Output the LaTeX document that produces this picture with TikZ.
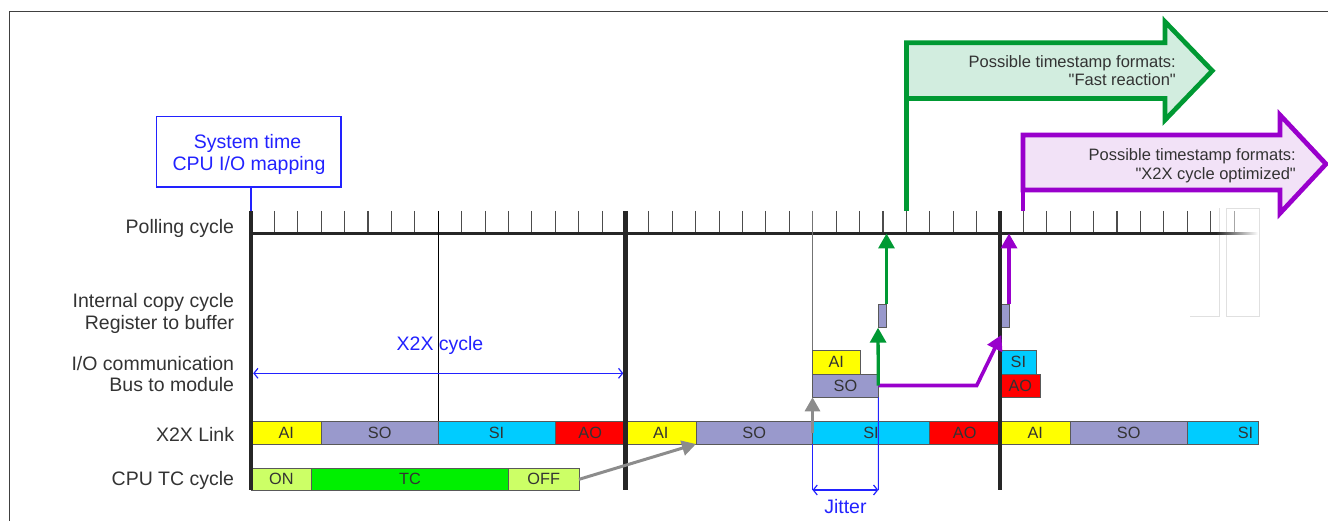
\documentclass[tikz,border=0pt]{standalone}
\usepackage{fontspec}
\setmainfont{Liberation Sans}
\usetikzlibrary{arrows.meta}
\definecolor{cyel}{HTML}{FFFF00}
\definecolor{cso}{HTML}{9999CC}
\definecolor{csi}{HTML}{00CCFF}
\definecolor{cao}{HTML}{FF0000}
\definecolor{con}{HTML}{CCFF66}
\definecolor{ctc}{HTML}{00F000}
\definecolor{cgreen}{HTML}{009933}
\definecolor{cgfill}{HTML}{D2EDDF}
\definecolor{cpur}{HTML}{9900CC}
\definecolor{cpfill}{HTML}{F2E2F7}
\definecolor{cblue}{HTML}{2222FF}
\definecolor{cgray}{HTML}{8C8C8C}
\definecolor{ctext}{HTML}{333333}
\newcommand\lblfont{\fontsize{19.5}{22}\selectfont}
\newcommand\segfont{\fontsize{16.3}{18}\selectfont}
\newcommand\notefont{\fontsize{16.5}{18.5}\selectfont}
\begin{document}
\begin{tikzpicture}[x=1pt,y=-1pt,
  seg/.style={draw=black!65, line width=0.8pt, inner sep=0pt, outer sep=0pt, anchor=north west, minimum height=23, text=ctext, font=\segfont},
  lbl/.style={anchor=base east, text=ctext, font=\lblfont, inner sep=0pt},
  bluetxt/.style={anchor=base, text=cblue, font=\lblfont, inner sep=0pt},
  notetxt/.style={anchor=base east, text=ctext, font=\notefont, inner sep=0pt},
  tickline/.style={draw=black!70, line width=1.1pt},
  cyclebar/.style={draw=black!85, line width=4.3pt},
  garrow/.style={draw=cgreen, line width=3.3pt, -{Triangle[length=15pt,width=16pt]}},
  parrow/.style={draw=cpur, line width=3.6pt, line join=miter, -{Triangle[length=15pt,width=16pt]}},
  grayarrow/.style={draw=cgray, line width=3pt, -{Triangle[length=14pt,width=15pt]}},
  dimline/.style={draw=cblue, line width=1pt},
  dimarrow/.style={draw=cblue, line width=1.2pt, {Straight Barb[length=4pt,width=10pt]}-{Straight Barb[length=4pt,width=10pt]}},
  bigarrow/.style={line width=4.7pt, line join=miter}
]
\useasboundingbox (0,0) rectangle (1328,521);
% frame
\draw[black!75, line width=1pt] (9,521) -- (9,12) -- (1328,12);

% faint artefact frames at the right end
\draw[black!12, line width=0.8pt] (1190,316) -- (1219.3,316) -- (1219.3,208);
\draw[black!12, line width=0.8pt] (1226.7,208) rectangle (1259,316);

% polling cycle ticks
\foreach \k in {1,...,15} {
  \draw[tickline] ({251+\k*23.406},211) -- ++(0,22.5);
  \draw[tickline] ({625.5+\k*23.406},211) -- ++(0,22.5);
}
\foreach \k in {1,...,9} {
  \draw[tickline] ({1000+\k*23.406},211) -- ++(0,22.5);
}
\draw[black!35, line width=1.1pt] (1234.1,211) -- ++(0,22.5);
% axis
\draw[black!85, line width=2.3pt] (251,233.5) -- (1216,233.5);
\shade[left color=black!85, right color=white] (1216,232.35) rectangle (1258,234.65);

% thin verticals
\draw[black, line width=1pt] (438.25,211) -- (438.25,421);
\draw[black!55, line width=1.5pt] (812.6,211) -- (812.6,350.7);

% big arrows
\filldraw[bigarrow, draw=cgreen, fill=cgfill] (906.4,42.7) -- (1165,42.7) -- (1165,21.7) -- (1212.3,70.8) -- (1165,120) -- (1165,98.5) -- (906.4,98.5) -- cycle;
\draw[draw=cgreen, line width=4.7pt] (906.4,98.5) -- (906.4,211);
\node[notetxt] (ga1) at (1176,68) {Possible timestamp formats:};
\node[notetxt] (ga2) at (1176,86) {\textquotedbl Fast reaction\textquotedbl};

\filldraw[bigarrow, draw=cpur, fill=cpfill] (1023,135) -- (1280,135) -- (1280,115) -- (1326,164) -- (1280,213.3) -- (1280,190) -- (1023,190) -- cycle;
\draw[draw=cpur, line width=4.7pt] (1023,190) -- (1023,211);
\node[notetxt] (pa1) at (1296,161) {Possible timestamp formats:};
\node[notetxt] (pa2) at (1296,179.5) {\textquotedbl X2X cycle optimized\textquotedbl};

% system time box
\node[draw=cblue, line width=1.2pt, minimum width=184.3, minimum height=70.3, inner sep=0pt] (sys) at (248.85,151.85) {};
\node[bluetxt] (sys1) at (247.5,149) {System time};
\node[bluetxt] (sys2) at (249,170.7) {CPU I/O mapping};
\coordinate (sysb) at (251,187);
\coordinate (polltop) at (251,211);
\draw[cblue, line width=1.2pt] (sysb) -- (polltop);

% row labels
\node[lbl] (l1) at (234.3,233.3) {Polling cycle};
\node[lbl] (l2a) at (234.3,307.3) {Internal copy cycle};
\node[lbl] (l2b) at (234.3,329.3) {Register to buffer};
\node[lbl] (l3a) at (234.3,370.7) {I/O communication};
\node[lbl] (l3b) at (234.3,391.7) {Bus to module};
\node[lbl] (l4) at (234.3,441) {X2X Link};
\node[lbl] (l5) at (234.3,485) {CPU TC cycle};

% X2X cycle dimension
\node[bluetxt] (x2xc) at (440,350) {X2X cycle};
\coordinate (cyL) at (253.2,373.3);
\coordinate (cyR) at (623.3,373.3);
\draw[dimarrow] (cyL) -- (cyR);

% X2X link bar
\node[seg, fill=cyel, minimum width=70.5] (ai1) at (251,421) {AI};
\node[seg, fill=cso, minimum width=116.5] (so1) at (321.5,421) {SO};
\node[seg, fill=csi, minimum width=117] (si1) at (438,421) {SI};
\node[seg, fill=cao, minimum width=70.5] (ao1) at (555,421) {AO};
\node[seg, fill=cyel, minimum width=70.5] (ai2) at (625.5,421) {AI};
\node[seg, fill=cso, minimum width=116.5] (so2) at (696,421) {SO};
\node[seg, fill=csi, minimum width=117] (si2) at (812.5,421) {SI};
\node[seg, fill=cao, minimum width=70.5] (ao2) at (929.5,421) {AO};
\node[seg, fill=cyel, minimum width=70.5] (ai3) at (1000,421) {AI};
\node[seg, fill=cso, minimum width=116.5] (so3) at (1070.5,421) {SO};
\node[seg, fill=csi, minimum width=71] (si3) at (1187,421) {};
\node[text=ctext, font=\segfont, inner sep=0pt] (si3t) at (1245.5,432.5) {SI};

% CPU TC cycle bar
\node[seg, fill=con, minimum width=60.7, minimum height=22.7] (on) at (251,468) {ON};
\node[seg, fill=ctc, minimum width=196.6, minimum height=22.7] (tc) at (311.7,468) {TC};
\node[seg, fill=con, minimum width=70.7, minimum height=22.7] (off) at (508.3,468) {OFF};

% I/O communication boxes
\node[seg, fill=cyel, minimum width=47.5, minimum height=23.3] (ioai) at (812.5,350.7) {AI};
\node[seg, fill=cso, minimum width=65.8, minimum height=23.3] (ioso) at (812.5,374) {SO};
\node[seg, fill=csi, minimum width=36.7, minimum height=23.3] (iosi) at (1000,350.7) {SI};
\node[seg, fill=cao, minimum width=40.7, minimum height=23.3] (ioao) at (1000,374) {AO};

% internal copy boxes
\node[seg, fill=cso, minimum width=8.5, minimum height=23.7] (cp1) at (878,304) {};
\node[seg, fill=cso, minimum width=8, minimum height=23.7] (cp2) at (1001,304) {};

% cycle boundary lines
\draw[cyclebar] (251,211) -- (251,490);
\draw[cyclebar] (625.5,211) -- (625.5,490);
\draw[cyclebar] (1000,211) -- (1000,490);

% jitter
\coordinate (jL) at (812.5,490);
\coordinate (jR) at (878.3,490);
\draw[dimline] (so2.south east) -- (jL);
\draw[dimline] (ioso.south east) -- (jR);
\draw[dimarrow] (jL) -- (jR);
\node[bluetxt] (jit) at (845.4,513) {Jitter};

% gray arrows
\coordinate (g1s) at (812.5,433);
\draw[grayarrow] (g1s) -- (ioso.south west);
\draw[grayarrow] (off.east) -- (so2.south west);

% purple path
\coordinate (gstart) at (878.3,385.5);
\coordinate (pTip) at (1001.3,335);
\draw[parrow] (gstart) -- (976.7,385.5) -- (pTip);
\coordinate (tpB) at (1009,233.5);
\draw[parrow] (cp2.north east) -- (tpB);

% green arrows
\draw[garrow] (gstart) -- (cp1.south west);
\coordinate (tgA) at (886.5,233.5);
\draw[garrow] (cp1.north east) -- (tgA);
\end{tikzpicture}
\end{document}
